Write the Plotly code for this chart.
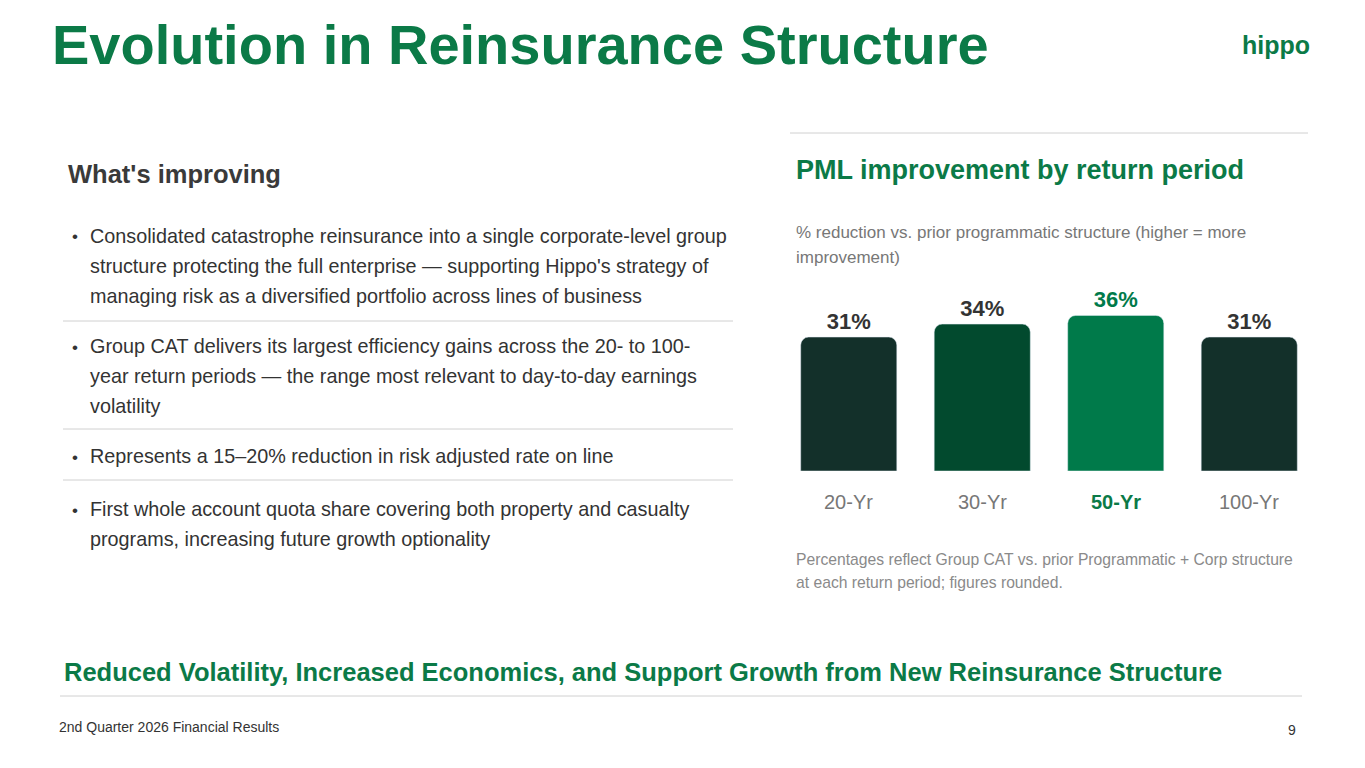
import plotly.graph_objects as go

periods = ["20-Yr", "30-Yr", "50-Yr", "100-Yr"]
reduction_pct = [31, 34, 36, 31]
bar_colors = ["#13302a", "#024a2e", "#007a4a", "#13302a"]
label_colors = ["#333333", "#333333", "#007a4a", "#333333"]

bullets = [
    (["Consolidated catastrophe reinsurance into a single corporate-level group",
      "structure protecting the full enterprise — supporting Hippo's strategy of",
      "managing risk as a diversified portfolio across lines of business"], 236),
    (["Group CAT delivers its largest efficiency gains across the 20- to 100-",
      "year return periods — the range most relevant to day-to-day earnings",
      "volatility"], 346),
    (["Represents a 15–20% reduction in risk adjusted rate on line"], 456),
    (["First whole account quota share covering both property and casualty",
      "programs, increasing future growth optionality"], 509),
]

W, H = 1365, 768
OFF = 8  # page body margin in the browser
GREEN = "#0b7a47"
FONT = "Liberation Sans, Arial, sans-serif"

def py(p):
    return 1 - (p - OFF) / H

def px_(p):
    return (p - OFF) / W

fig = go.Figure(go.Bar(
    x=periods, y=reduction_pct,
    marker=dict(color=bar_colors, cornerradius=8),
    width=0.72,
    text=[f"{v}%" for v in reduction_pct],
    textposition="outside",
    textfont=dict(size=22, color=label_colors, family=FONT),
    cliponaxis=False,
))
fig.update_traces(texttemplate="<b>%{text}</b>")

fig.update_layout(
    width=W, height=H, margin=dict(l=0, r=0, t=0, b=0),
    paper_bgcolor="white", plot_bgcolor="white", showlegend=False,
    font=dict(family=FONT, color="#333333"),
    xaxis=dict(domain=[px_(782), px_(1316)], showticklabels=False, showgrid=False,
               zeroline=False, showline=False),
    yaxis=dict(domain=[py(471), py(280)], range=[0, 44.2], visible=False),
)

ann = []
def text(x, y, s, size, color="#333333", bold=False, anchor="left"):
    ann.append(dict(x=px_(x), y=py(y), xref="paper", yref="paper",
                    text=f"<b>{s}</b>" if bold else s, showarrow=False,
                    xanchor=anchor, yanchor="middle", align="left",
                    font=dict(size=size, color=color, family=FONT)))

text(50, 44, "Evolution in Reinsurance Structure", 56, GREEN, True)
text(1240, 45, "hippo", 25, GREEN, True)
text(66, 174, "What's improving", 25.5, "#3a3a3a", True)
text(794, 170, "PML improvement by return period", 27, GREEN, True)
text(794, 232, "% reduction vs. prior programmatic structure (higher = more", 17, "#777777")
text(794, 257, "improvement)", 17, "#777777")
for lines, y0 in bullets:
    text(70, y0 + 1, "•", 17)
    for k, line in enumerate(lines):
        text(88, y0 + 30 * k, line, 19.8)
for p in periods:
    bold = p == "50-Yr"
    ann.append(dict(x=p, y=py(502), xref="x", yref="paper",
                    text=f"<b>{p}</b>" if bold else p, showarrow=False,
                    font=dict(size=20, color=GREEN if bold else "#777777", family=FONT)))
text(794, 559, "Percentages reflect Group CAT vs. prior Programmatic + Corp structure", 15.7, "#8a8a8a")
text(794, 582, "at each return period; figures rounded.", 15.7, "#8a8a8a")
text(62, 672, "Reduced Volatility, Increased Economics, and Support Growth from New Reinsurance Structure", 25.5, GREEN, True)
text(57, 727, "2nd Quarter 2026 Financial Results", 14, "#333333")
text(1298, 730, "9", 14, "#333333", anchor="right")
fig.update_layout(annotations=ann)

shapes = []
for y, x0, x1 in [(133, 790, 1308), (321, 63, 733), (429, 63, 733), (480, 63, 733), (696, 60, 1302)]:
    shapes.append(dict(type="line", xref="paper", yref="paper", x0=px_(x0), x1=px_(x1),
                       y0=py(y), y1=py(y), line=dict(color="#d0d0d0", width=1)))
fig.update_layout(shapes=shapes)

fig.write_html("out.html")
